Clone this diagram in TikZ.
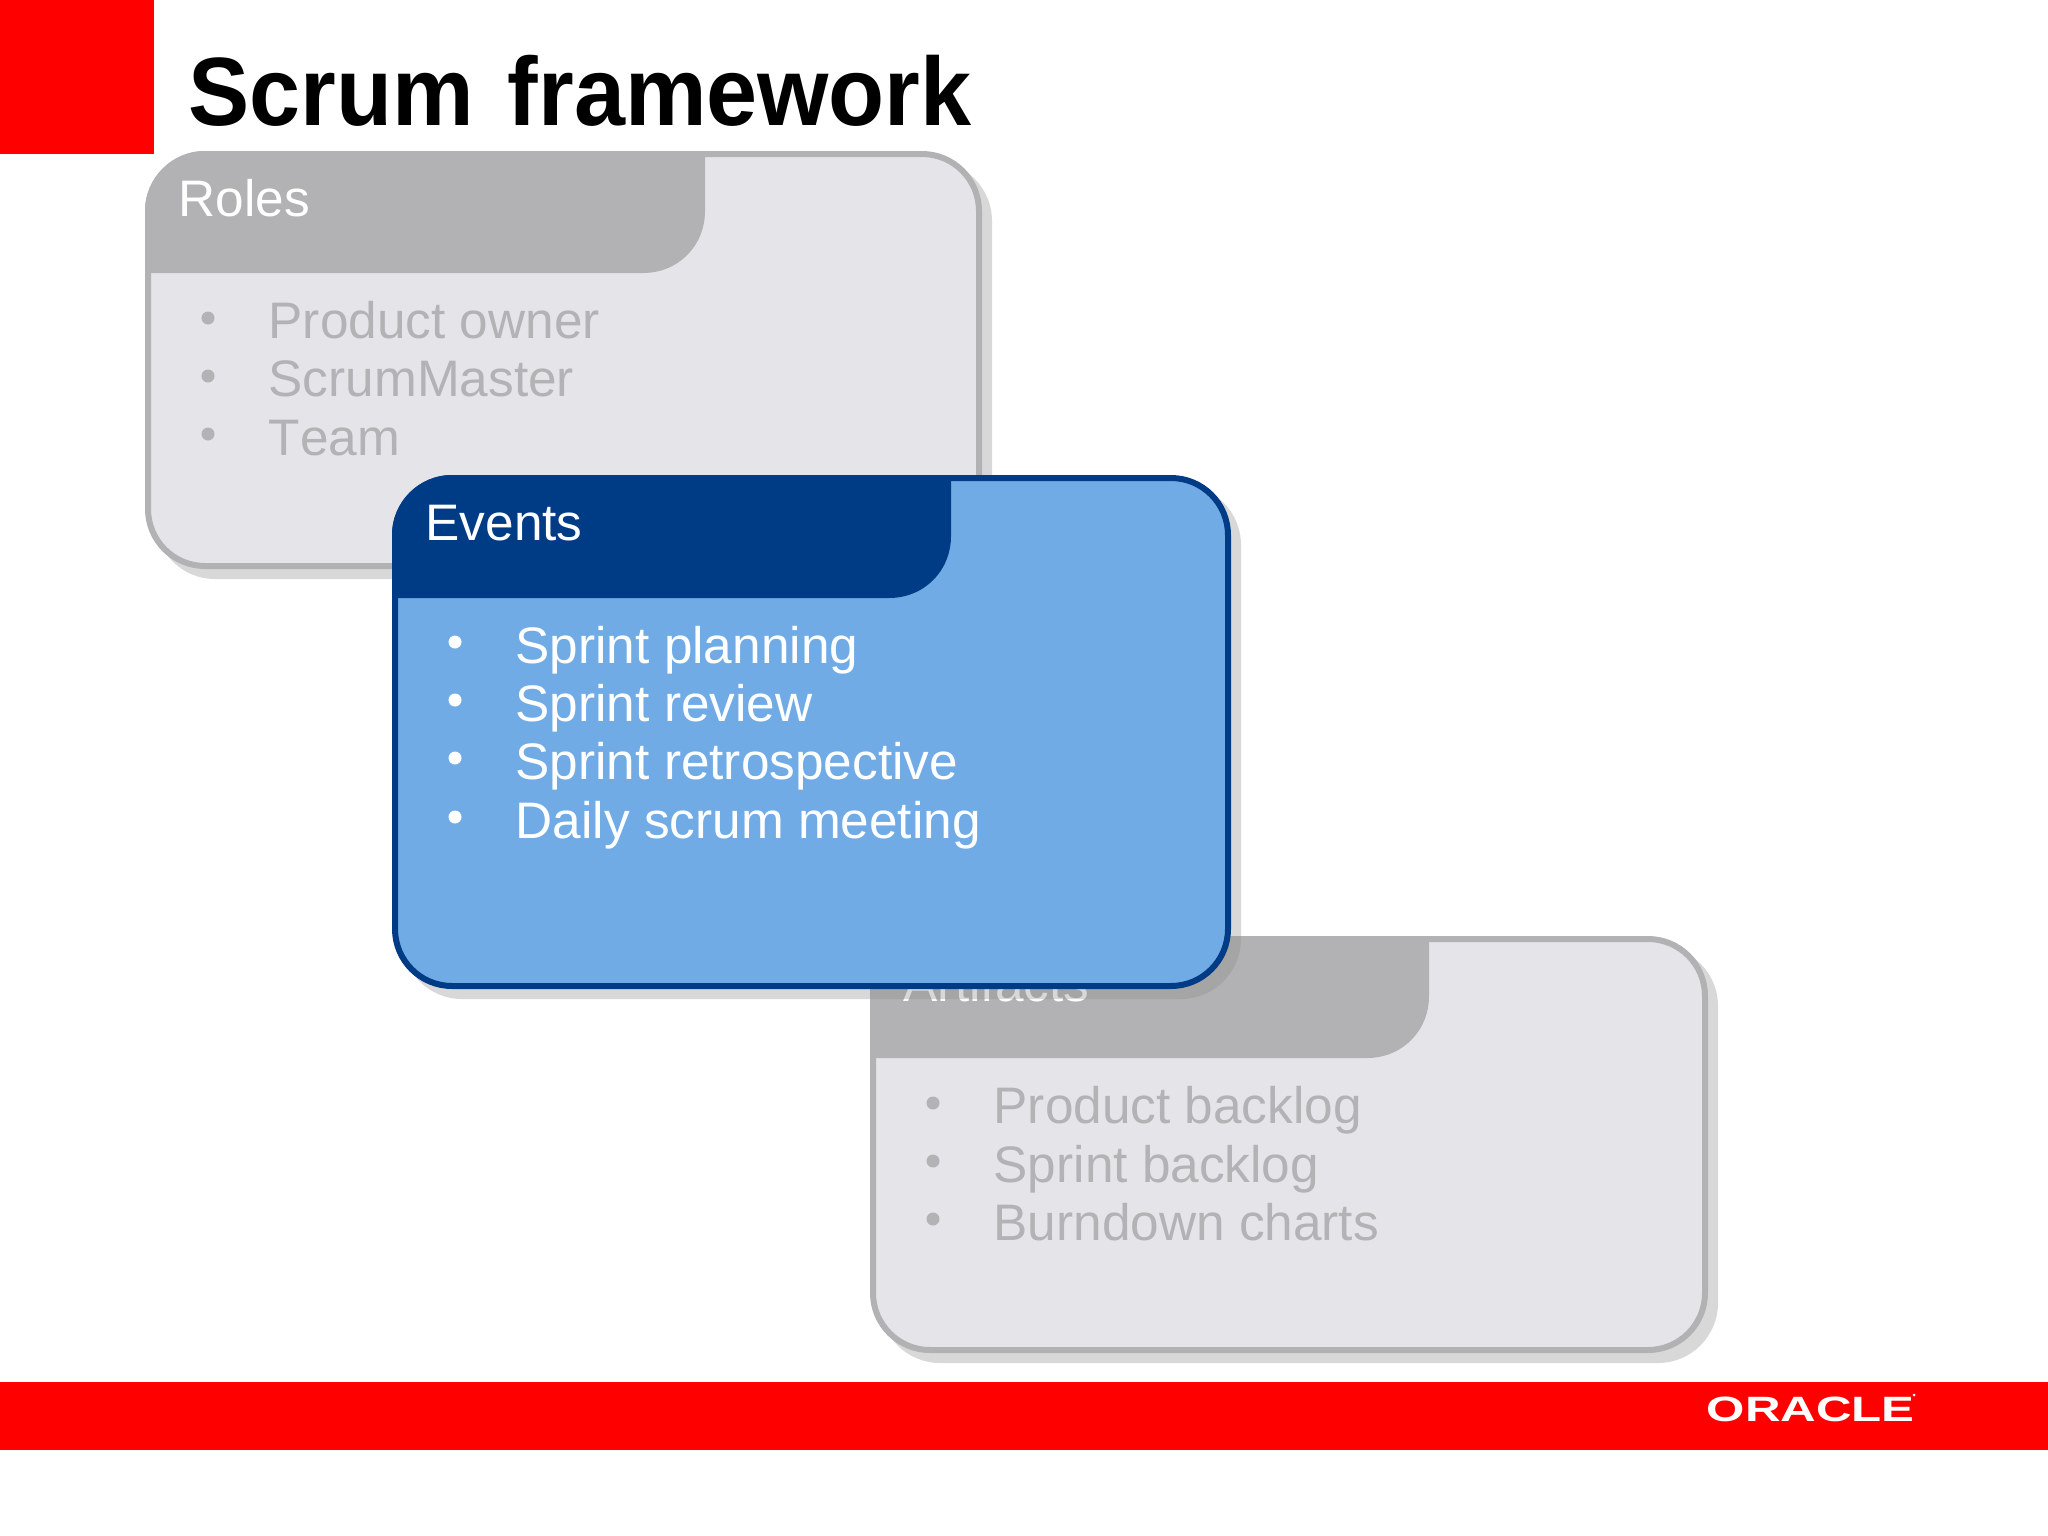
\documentclass[tikz,border=0pt]{standalone}
\usepackage{fontspec}
\setmainfont{Liberation Sans}
\definecolor{oraclered}{HTML}{FF0000}
\definecolor{graybody}{HTML}{E5E4E8}
\definecolor{grayhead}{HTML}{B2B1B3}
\definecolor{graytext}{HTML}{B3B2B5}
\definecolor{bluebody}{HTML}{70ABE6}
\definecolor{bluehead}{HTML}{003C85}
\definecolor{shadowtone}{HTML}{909090}
\tikzset{
  cardtitle/.style={anchor=base west,inner sep=0pt,font=\fontsize{14.6pt}{17pt}\selectfont},
  cardtext/.style={anchor=base west,inner sep=0pt,font=\fontsize{14.6pt}{17pt}\selectfont},
  cardbullet/.style={circle,inner sep=0pt,minimum size=.13cm},
  cardshadow/.style={fill=shadowtone,opacity=.35,rounded corners=.6cm},
}
% #1 left, #2 top, #3 right, #4 bottom, #5 head right, #6 head bottom, #7 body colour, #8 head colour
\newcommand{\scrumcard}[8]{%
  \fill[cardshadow] ({#1+10},{#2+10}) rectangle ({#3+10},{#4+10});
  \draw[line width=.06cm,draw=#8,fill=#7,rounded corners=.57cm] ({#1+3},{#2+3}) rectangle ({#3-3},{#4-3});
  \fill[#8] (#1,#6) -- (#1,{#2+60}) .. controls (#1,{#2+27}) and ({#1+27},#2) .. ({#1+60},#2)
    -- (#5,#2) -- (#5,{#6-62}) .. controls (#5,{#6-27}) and ({#5-27},#6) .. ({#5-62},#6) -- cycle;
}
\begin{document}
\begin{tikzpicture}[x=.01cm,y=-.01cm]
\useasboundingbox (0,0) rectangle (2048,1536);
\fill[white] (0,0) rectangle (2048,1536);
% frame
\fill[oraclered] (0,0) rectangle (154,154);
\fill[oraclered] (0,1382) rectangle (2048,1450);
\node[anchor=base west,inner sep=0pt,font=\fontsize{27.6pt}{32pt}\selectfont\bfseries] (title) at (188,125) {\scalebox{.945}[1]{Scrum\hspace{.09em} framework}};
\node[anchor=base west,inner sep=0pt,text=white,font=\fontsize{10pt}{11pt}\selectfont\bfseries] (logo) at (1706,1421) {\scalebox{1.4}[1]{ORACLE}};
\fill[white] (1914,1395) circle (1.5);
% Roles
\scrumcard{145}{151}{982}{569}{705}{273}{graybody}{grayhead}
\node[cardtitle,text=white] (rolesT) at (178,216) {Roles};
\node[cardbullet,fill=graytext] (rb1) at (208,318) {};
\node[cardbullet,fill=graytext] (rb2) at (208,376) {};
\node[cardbullet,fill=graytext] (rb3) at (208,434) {};
\node[cardtext,text=graytext] (r1) at (268,338) {Product owner};
\node[cardtext,text=graytext] (r2) at (268,396.5) {ScrumMaster};
\node[cardtext,text=graytext] (r3) at (268,455) {T\kern0pt eam};
% Artifacts
\scrumcard{870}{936}{1708}{1353}{1429}{1058}{graybody}{grayhead}
\node[cardtitle,text=white] (artT) at (903,1001) {Artifacts};
\node[cardbullet,fill=graytext] (ab1) at (933,1103) {};
\node[cardbullet,fill=graytext] (ab2) at (933,1161) {};
\node[cardbullet,fill=graytext] (ab3) at (933,1219) {};
\node[cardtext,text=graytext] (a1) at (993,1123.5) {Product backlog};
\node[cardtext,text=graytext] (a2) at (993,1182) {Sprint backlog};
\node[cardtext,text=graytext] (a3) at (993,1240) {Burndown charts};
% Events
\scrumcard{392}{475}{1231}{989}{951}{598}{bluebody}{bluehead}
\node[cardtitle,text=white] (evT) at (425,540) {Events};
\node[cardbullet,fill=white] (eb1) at (455,642) {};
\node[cardbullet,fill=white] (eb2) at (455,700) {};
\node[cardbullet,fill=white] (eb3) at (455,758) {};
\node[cardbullet,fill=white] (eb4) at (455,817) {};
\node[cardtext,text=white] (e1) at (515,663) {Sprint planning};
\node[cardtext,text=white] (e2) at (515,721.5) {Sprint review};
\node[cardtext,text=white] (e3) at (515,779.5) {Sprint retrospective};
\node[cardtext,text=white] (e4) at (515,838) {Daily scrum meeting};
\end{tikzpicture}
\end{document}
